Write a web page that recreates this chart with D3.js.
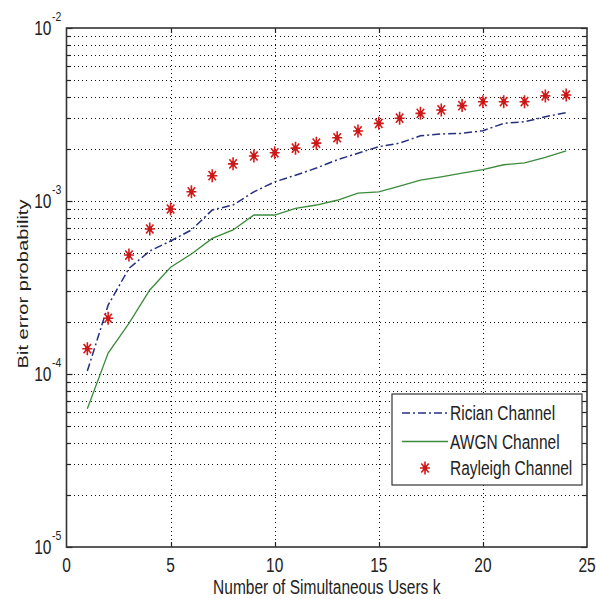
<!DOCTYPE html>
<html><head><meta charset="utf-8">
<script src="https://cdn.jsdelivr.net/npm/d3@7"></script>
<style>html,body{margin:0;padding:0;background:#fff;}svg{display:block;}</style>
</head><body>
<svg id="c" width="596" height="599"></svg>
<script>
const users = [1,2,3,4,5,6,7,8,9,10,11,12,13,14,15,16,17,18,19,20,21,22,23,24];
const rician = [1.04e-4,2.5e-4,4.08e-4,5.14e-4,5.87e-4,6.8e-4,8.87e-4,9.48e-4,1.13e-3,1.29e-3,1.41e-3,1.55e-3,1.73e-3,1.89e-3,2.06e-3,2.16e-3,2.38e-3,2.44e-3,2.46e-3,2.55e-3,2.81e-3,2.87e-3,3.07e-3,3.24e-3];
const awgn = [6.3e-5,1.32e-4,1.96e-4,3.06e-4,4.14e-4,4.94e-4,6.08e-4,6.8e-4,8.3e-4,8.3e-4,9.07e-4,9.48e-4,1.01e-3,1.11e-3,1.13e-3,1.22e-3,1.32e-3,1.38e-3,1.45e-3,1.52e-3,1.62e-3,1.66e-3,1.79e-3,1.95e-3];
const rayleigh = [1.40e-4,2.10e-4,4.87e-4,6.89e-4,8.99e-4,1.13e-3,1.40e-3,1.64e-3,1.82e-3,1.90e-3,2.02e-3,2.16e-3,2.32e-3,2.54e-3,2.81e-3,3.01e-3,3.21e-3,3.36e-3,3.56e-3,3.75e-3,3.75e-3,3.75e-3,4.05e-3,4.10e-3];
const xTicks = [0,5,10,15,20,25];
const yDecades = [-5,-4,-3,-2];
const seriesNames = ["Rician Channel","AWGN Channel","Rayleigh Channel"];
const xLabel = "Number of Simultaneous Users k";
const yLabel = "Bit error probability";

const L=66.5, R=587, T=28, B=547;
const FS=15.5, SY=1.3;
const svg = d3.select("#c");
const x = d3.scaleLinear().domain([0,25]).range([L,R]);
const y = d3.scaleLog().domain([1e-5,1e-2]).range([B,T]);

const minorVals = [];
for (let d=-5; d<-2; d++) for (let m=2; m<=9; m++) minorVals.push(m*Math.pow(10,d));
const majorVals = yDecades.map(d=>Math.pow(10,d));

const grid = svg.append("g").attr("stroke","#111").attr("stroke-width",1).attr("stroke-dasharray","1,3.2").attr("shape-rendering","crispEdges");
grid.selectAll("line.gy").data(minorVals.concat(majorVals.slice(1,3))).enter().append("line")
  .attr("x1",L+3).attr("x2",R).attr("y1",d=>Math.round(y(d))+0.5).attr("y2",d=>Math.round(y(d))+0.5);
grid.selectAll("line.gx").data(xTicks.slice(1,5)).enter().append("line")
  .attr("y1",T+3).attr("y2",B).attr("x1",d=>Math.round(x(d))+0.5).attr("x2",d=>Math.round(x(d))+0.5);

const tk = svg.append("g").attr("stroke","#222").attr("stroke-width",1.2);
xTicks.slice(1,5).forEach(v=>{
  const px=Math.round(x(v))+0.5;
  tk.append("line").attr("x1",px).attr("x2",px).attr("y1",B).attr("y2",B-5);
  tk.append("line").attr("x1",px).attr("x2",px).attr("y1",T).attr("y2",T+5);
});
minorVals.forEach(v=>{
  const py=Math.round(y(v))+0.5;
  tk.append("line").attr("x1",L).attr("x2",L+4).attr("y1",py).attr("y2",py);
  tk.append("line").attr("x1",R).attr("x2",R-4).attr("y1",py).attr("y2",py);
});
majorVals.forEach(v=>{
  const py=Math.round(y(v))+0.5;
  tk.append("line").attr("x1",L).attr("x2",L+6).attr("y1",py).attr("y2",py);
  tk.append("line").attr("x1",R).attr("x2",R-6).attr("y1",py).attr("y2",py);
});

const line = d3.line().x((d,i)=>x(users[i])).y(d=>y(d));
svg.append("path").datum(awgn).attr("d",line).attr("fill","none").attr("stroke","#3b8b3b").attr("stroke-width",1.3);
svg.append("path").datum(rician).attr("d",line).attr("fill","none").attr("stroke","#24307f").attr("stroke-width",1.5).attr("stroke-dasharray","8,3,2,3");

function starPath(cx,cy){
  const rx=5, ry=6.5, dx=3.7, dy=4.6;
  return `M${cx-rx},${cy}L${cx+rx},${cy}M${cx},${cy-ry}L${cx},${cy+ry}M${cx-dx},${cy-dy}L${cx+dx},${cy+dy}M${cx-dx},${cy+dy}L${cx+dx},${cy-dy}`;
}
svg.append("g").selectAll("path").data(rayleigh).enter().append("path")
  .attr("d",(d,i)=>starPath(x(users[i]),y(d))).attr("stroke","#d21c1c").attr("stroke-width",1.6).attr("fill","none");
svg.append("g").selectAll("circle").data(rayleigh).enter().append("circle")
  .attr("cx",(d,i)=>x(users[i])).attr("cy",d=>y(d)).attr("r",2.4).attr("fill","#c81818");

svg.append("rect").attr("x",L).attr("y",T).attr("width",R-L).attr("height",B-T).attr("fill","none").attr("stroke","#333").attr("stroke-width",1.6);

function stext(px,py,str,anchor,fs){
  const g=svg.append("g").attr("transform",`translate(${px},${py}) scale(1,${SY})`);
  return g.append("text").attr("x",0).attr("y",0).attr("text-anchor",anchor||"start")
    .attr("font-family","Liberation Sans, Arial, sans-serif").attr("font-size",fs||FS).attr("fill","#222").text(str);
}
xTicks.forEach(v=>stext(x(v),572,String(v),"middle"));
yDecades.forEach(d=>{
  const py=y(Math.pow(10,d));
  stext(51.5,py+7,"10","end");
  stext(52,py-7,String(d),"start",10.5);
});
stext((L+R)/2,594,xLabel,"middle");
const gy=svg.append("g").attr("transform",`translate(28,${284}) rotate(-90) scale(${SY},1)`);
gy.append("text").attr("text-anchor","middle").attr("font-family","Liberation Sans, Arial, sans-serif").attr("font-size",FS).attr("fill","#222").text(yLabel);

const lg = svg.append("g");
lg.append("rect").attr("x",392).attr("y",394).attr("width",190).attr("height",91).attr("fill","#fff").attr("stroke","#333").attr("stroke-width",1.2);
const rows=[413,441.5,468];
lg.append("line").attr("x1",402).attr("x2",448).attr("y1",rows[0]).attr("y2",rows[0]).attr("stroke","#24307f").attr("stroke-width",1.5).attr("stroke-dasharray","8,3,2,3");
lg.append("line").attr("x1",402).attr("x2",448).attr("y1",rows[1]).attr("y2",rows[1]).attr("stroke","#3b8b3b").attr("stroke-width",1.3);
lg.append("path").attr("d",starPath(425,rows[2])).attr("stroke","#d21c1c").attr("stroke-width",1.6);
lg.append("circle").attr("cx",425).attr("cy",rows[2]).attr("r",2.4).attr("fill","#c81818");
seriesNames.forEach((s,i)=>stext(450,rows[i]+7,s,"start"));
</script>
</body></html>
